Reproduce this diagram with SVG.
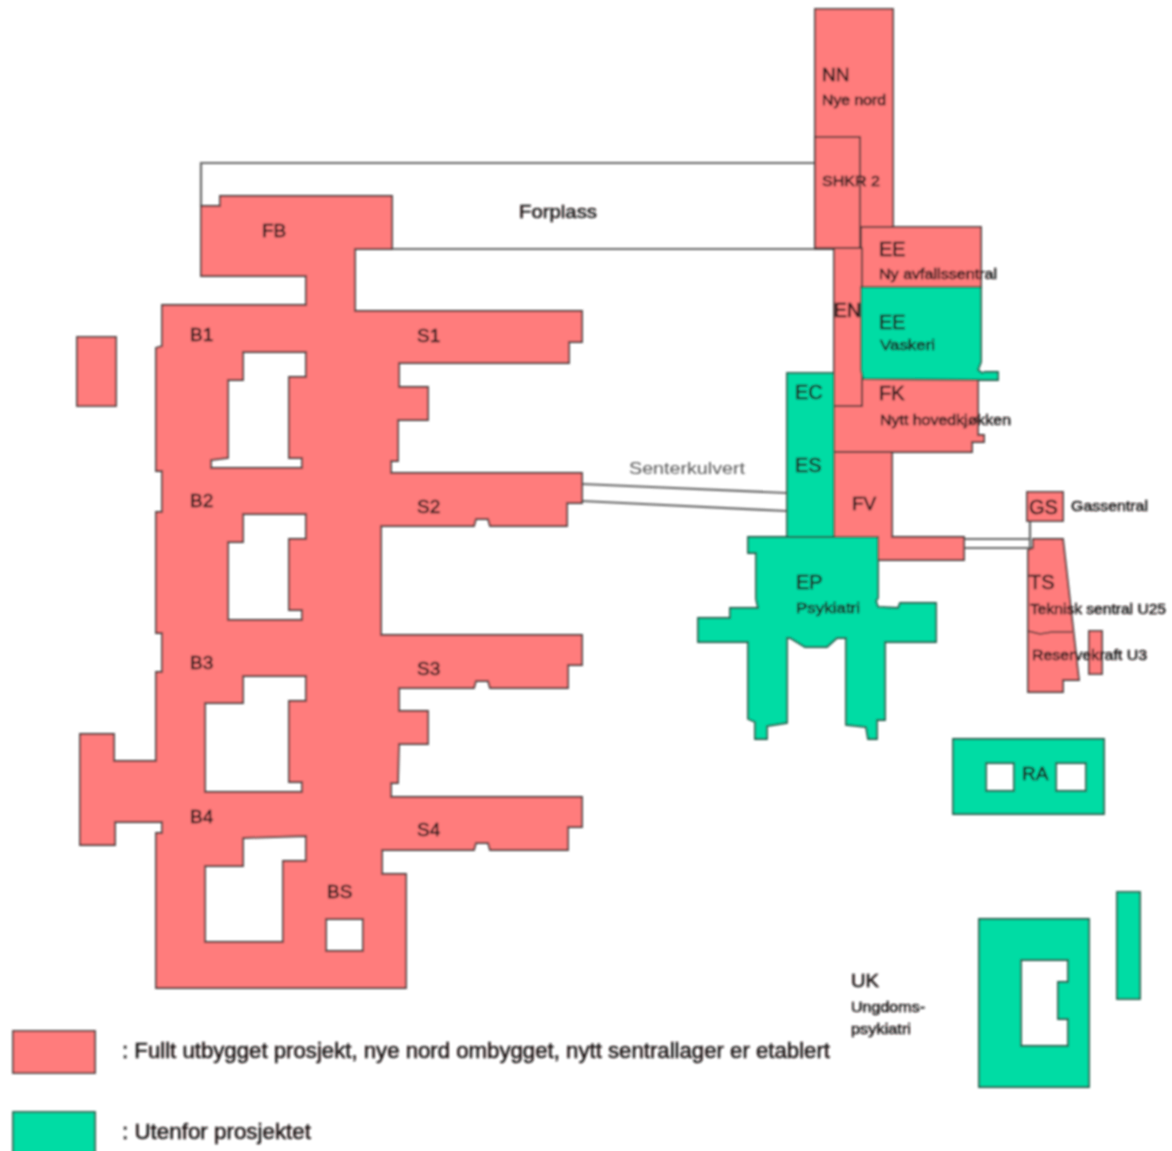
<svg xmlns="http://www.w3.org/2000/svg" width="1172" height="1151" viewBox="0 0 1172 1151">
<defs>
<filter id="soft" x="0" y="0" width="1172" height="1151" filterUnits="userSpaceOnUse"><feGaussianBlur stdDeviation="1.1"/></filter>
</defs>
<style>
.p{fill:#ff7b7b;stroke:#4a3a3a;stroke-width:1.8;fill-rule:evenodd}
.g{fill:#00dca4;stroke:#1f5a48;stroke-width:1.8;fill-rule:evenodd}
.c{fill:none;stroke:#666;stroke-width:2.2}
text{font-family:"Liberation Sans",Arial,sans-serif;fill:#1a1414;stroke:#1a1414;stroke-width:0.5}
.l{font-size:19px}
.n{font-size:15px}
.e{font-size:20px}
</style>
<rect width="1172" height="1151" fill="#fff"/>
<g filter="url(#soft)">
<g id="connectors">
<path class="c" d="M201 206V163H815M392 249H815"/>
<path class="c" d="M582 484L787 493M582 501L787 511"/>
<path class="c" d="M964 539H1030M964 548H1032M1030 521V548"/>
</g>
<g id="main">
<path class="p" d="M201 206H220V196H392V249H355V311H582V342H569V363H399V387H428V420H398V461H391V473H582V503H567V526H490L488 519H476L474 526H381V635H582V665H568V688H490L488 681H476L474 688H399V711H428V744H399L398 783H391V797H582V827H568V850H490L488 843H476L474 850H382V874H406V988H156V833H162V822H115V845H80V734H114V761H156V672H162V633H156V512H162V471H156V348L162 346V305H306V276H201Z
M243 352H306V377H289V458H302V468H211V460L228 458V380H243Z
M243 514H306V539H289V610H302V620H228V542H243Z
M243 676H306V701H289V782H302V792H205V703H243Z
M243 838L306 836V861H283V942H205V866H243Z
M326 919H363V951H326Z"/>
<text class="l" x="262" y="237">FB</text>
<text class="l" x="190" y="341">B1</text>
<text class="l" x="417" y="342">S1</text>
<text class="l" x="190" y="507">B2</text>
<text class="l" x="417" y="513">S2</text>
<text class="l" x="190" y="669">B3</text>
<text class="l" x="417" y="675">S3</text>
<text class="l" x="190" y="823">B4</text>
<text class="l" x="417" y="836">S4</text>
<text class="l" x="327" y="898">BS</text>
</g>
<g id="annex"><rect class="p" x="77" y="337" width="39" height="69"/></g>
<g id="forplass"><text class="l" x="519" y="218" textLength="78" lengthAdjust="spacingAndGlyphs">Forplass</text></g>
<g id="senterkulvert"><text x="629" y="474" font-size="17" style="fill:#555;stroke:none" textLength="116" lengthAdjust="spacingAndGlyphs">Senterkulvert</text></g>
<g id="NN"><rect class="p" x="815" y="9" width="78" height="240"/>
<text class="l" x="822" y="81">NN</text><text class="n" x="822" y="105" textLength="64" lengthAdjust="spacingAndGlyphs">Nye nord</text></g>
<g id="EE1"><rect class="p" x="861" y="227" width="120" height="60"/>
<text class="e" x="879" y="256">EE</text></g>
<g id="FK"><path class="p" d="M862 379H978V435H984V442H972V452H834V406H862Z"/>
<text class="e" x="879" y="400">FK</text></g>
<g id="EN"><rect class="p" x="834" y="248" width="28" height="158"/>
<text class="e" x="834" y="317" textLength="27" lengthAdjust="spacingAndGlyphs">EN</text></g>
<g id="SHKR"><rect class="p" x="815" y="137" width="45" height="111"/>
<text class="n" x="822" y="186" textLength="58" lengthAdjust="spacingAndGlyphs">SHKR 2</text></g>
<g id="EE2"><path class="g" d="M861 287H981V362L978 370L982 373L985 372H998V380H985L863 379L861 370Z"/>
<text class="e" x="879" y="329">EE</text><text class="n" x="880" y="350" textLength="55" lengthAdjust="spacingAndGlyphs">Vaskeri</text></g>
<text class="n" x="879" y="279" textLength="118" lengthAdjust="spacingAndGlyphs">Ny avfallssentral</text>
<text class="n" x="880" y="425" textLength="131" lengthAdjust="spacingAndGlyphs">Nytt hovedkjøkken</text>
<g id="FV"><path class="p" d="M834 452H892V537H964V560H878V537H834Z"/>
<text class="l" x="852" y="510">FV</text></g>
<g id="EC"><rect class="g" x="787" y="373" width="47" height="165"/>
<text class="e" x="795" y="399">EC</text><text class="e" x="795" y="472">ES</text></g>
<g id="EP"><path class="g" d="M748 537H878V598L876 601L878 607L898 608L900 603H936V642H885V720H877V739H868L866 727L846 725V638H837L827 647H805L790 638H787V723L767 726V739H755V722L748 719V642H698V618H730V608H758L756 599V553H748Z"/>
<text class="e" x="796" y="589">EP</text><text class="n" x="796" y="613" textLength="64" lengthAdjust="spacingAndGlyphs">Psykiatri</text></g>
<g id="GS"><rect class="p" x="1027" y="492" width="36" height="29"/>
<text class="e" x="1029" y="514">GS</text><text class="n" x="1071" y="511" textLength="77" lengthAdjust="spacingAndGlyphs">Gassentral</text></g>
<g id="TS"><path class="p" d="M1033 539H1063L1079 680H1063V692H1028V550L1033 548Z"/>
<path d="M1028 631L1040 634L1052 632H1072" fill="none" stroke="#4a3a3a" stroke-width="1.6"/>
<rect class="p" x="1089" y="631" width="13" height="43"/>
<text class="e" x="1029" y="589">TS</text>
<text class="n" x="1030" y="614" textLength="136" lengthAdjust="spacingAndGlyphs">Teknisk sentral U25</text>
<text class="n" x="1032" y="660" textLength="115" lengthAdjust="spacingAndGlyphs">Reservekraft U3</text></g>
<g id="RA"><path class="g" d="M953 739H1104V814H953ZM986 763H1014V791H986ZM1056 763H1086V791H1056Z"/>
<text class="l" x="1022" y="780">RA</text></g>
<g id="UK"><path class="g" d="M979 919H1089V1087H979ZM1021 960H1068V982H1058V1019H1068V1046H1021Z"/>
<rect class="g" x="1117" y="892" width="23" height="107"/>
<text class="l" x="851" y="987" textLength="28" lengthAdjust="spacingAndGlyphs">UK</text>
<text class="n" x="851" y="1012" textLength="74" lengthAdjust="spacingAndGlyphs">Ungdoms-</text>
<text class="n" x="851" y="1034" textLength="60" lengthAdjust="spacingAndGlyphs">psykiatri</text></g>
<g id="legend">
<rect class="p" x="13" y="1031" width="82" height="42"/>
<text x="122" y="1058" font-size="21.5" textLength="708" lengthAdjust="spacingAndGlyphs">: Fullt utbygget prosjekt, nye nord ombygget, nytt sentrallager er etablert</text>
<rect class="g" x="13" y="1112" width="82" height="42"/>
<text x="122" y="1139" font-size="21.5" textLength="189" lengthAdjust="spacingAndGlyphs">: Utenfor prosjektet</text>
</g>
</g>
</svg>
